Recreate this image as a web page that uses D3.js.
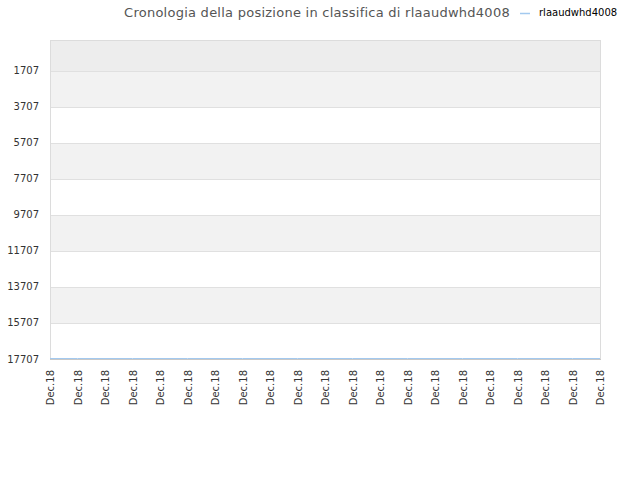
<!DOCTYPE html>
<html>
<head>
<meta charset="utf-8">
<script src="https://cdn.jsdelivr.net/npm/d3@7"></script>
<style>
  body { margin: 0; background: #fff; }
  text { font-family: "DejaVu Sans", sans-serif; }
</style>
</head>
<body>
<div id="chart"></div>
<script>
// Dati del grafico
const titolo = "Cronologia della posizione in classifica di rlaaudwhd4008";
const serieNome = "rlaaudwhd4008";
const etichetteX = ["Dec.18", "Dec.18", "Dec.18", "Dec.18", "Dec.18", "Dec.18", "Dec.18",
  "Dec.18", "Dec.18", "Dec.18", "Dec.18", "Dec.18", "Dec.18", "Dec.18",
  "Dec.18", "Dec.18", "Dec.18", "Dec.18", "Dec.18", "Dec.18", "Dec.18"];
const posizioni = [17707, 17707, 17707, 17707, 17707, 17707, 17707,
  17707, 17707, 17707, 17707, 17707, 17707, 17707,
  17707, 17707, 17707, 17707, 17707, 17707, 17707];
const tickY = [1707, 3707, 5707, 7707, 9707, 11707, 13707, 15707, 17707];
const dominioY = [-15, 17707];

const width = 640, height = 480;
const margin = { top: 40, right: 40, bottom: 121, left: 50 };
const w = width - margin.left - margin.right;
const h = height - margin.top - margin.bottom;

const svg = d3.select("#chart").append("svg")
  .attr("width", width)
  .attr("height", height);

const g = svg.append("g")
  .attr("transform", "translate(" + margin.left + "," + margin.top + ")");

// Scale
const x = d3.scalePoint().domain(d3.range(etichetteX.length)).range([0, w]);
const y = d3.scaleLinear().domain(dominioY).range([0, h]);

// Bande di sfondo
const limiti = [dominioY[0]].concat(tickY);
g.selectAll(".banda")
  .data(d3.range(limiti.length - 1))
  .enter()
  .append("rect")
  .attr("x", 0)
  .attr("width", w)
  .attr("y", d => y(limiti[d]))
  .attr("height", d => y(limiti[d + 1]) - y(limiti[d]))
  .attr("fill", d => d === 0 ? "#ededed" : (d % 2 === 1 ? "#f2f2f2" : "#ffffff"));

// Griglia orizzontale
g.selectAll(".griglia")
  .data(tickY)
  .enter()
  .append("line")
  .attr("x1", 0)
  .attr("x2", w)
  .attr("y1", d => Math.round(y(d)) + 0.5)
  .attr("y2", d => Math.round(y(d)) + 0.5)
  .attr("stroke", "#e0e0e0");

// Bordo area
g.append("rect")
  .attr("x", 0.5)
  .attr("y", 0.5)
  .attr("width", w)
  .attr("height", h)
  .attr("fill", "none")
  .attr("stroke", "#dcdcdc");

// Linea asse x
g.append("line")
  .attr("x1", 0)
  .attr("x2", w + 1)
  .attr("y1", h + 0.5)
  .attr("y2", h + 0.5)
  .attr("stroke", "#c8c8c8");

// Serie
const linea = d3.line()
  .x((d, i) => x(i))
  .y(d => y(d) - 0.5);

g.append("path")
  .datum(posizioni)
  .attr("fill", "none")
  .attr("stroke", "#a3c9ef")
  .attr("stroke-width", 1)
  .attr("d", linea);

// Etichette asse y
g.selectAll(".etichettaY")
  .data(tickY)
  .enter()
  .append("text")
  .attr("x", -11)
  .attr("y", d => y(d))
  .attr("dy", "0.35em")
  .attr("text-anchor", "end")
  .attr("font-size", 10)
  .attr("fill", "#333")
  .text(d => d);

// Etichette asse x ruotate
g.selectAll(".etichettaX")
  .data(etichetteX)
  .enter()
  .append("text")
  .attr("transform", (d, i) => "translate(" + (x(i) + 4) + "," + (h + 11) + ") rotate(-90)")
  .attr("text-anchor", "end")
  .attr("font-size", 10)
  .attr("fill", "#333")
  .text(d => d);

// Titolo
svg.append("text")
  .attr("x", 317)
  .attr("y", 17)
  .attr("text-anchor", "middle")
  .attr("font-size", 13)
  .attr("letter-spacing", "0.25")
  .attr("fill", "#555")
  .text(titolo);

// Legenda
svg.append("line")
  .attr("x1", 520)
  .attr("x2", 530)
  .attr("y1", 13.5)
  .attr("y2", 13.5)
  .attr("stroke", "#a3c9ef")
  .attr("stroke-width", 1.5);

svg.append("text")
  .attr("x", 539)
  .attr("y", 16)
  .attr("font-size", 10)
  .attr("fill", "#000")
  .text(serieNome);
</script>
</body>
</html>
